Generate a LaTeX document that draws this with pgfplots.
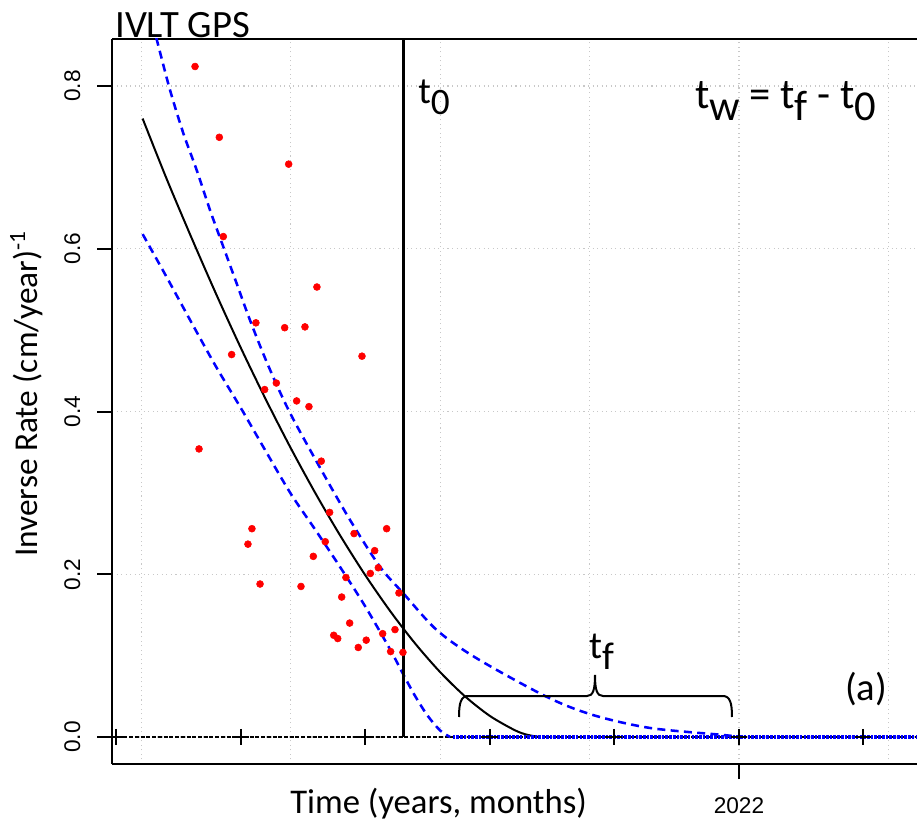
\documentclass[border=0pt]{standalone}
\usepackage{fontspec}
\setmainfont{Carlito}
\newfontfamily\arial{Liberation Sans}
\usepackage{pgfplots}
\pgfplotsset{compat=1.18}
\usetikzlibrary{calc}
\definecolor{rblue}{RGB}{0,0,255}
\definecolor{rred}{RGB}{255,0,0}
\definecolor{gridgray}{RGB}{200,200,200}

\begin{document}
\begin{tikzpicture}
\begin{axis}[
  at={(84bp,-573bp)}, anchor=south west,
  scale only axis, width=603.75bp, height=543.75bp,
  xmin=2016.964, xmax=2023.430, ymin=-0.0332, ymax=0.8578,
  axis x line*=box, axis y line*=left,
  axis line style={line width=1.5bp,-},
  tick align=outside, major tick length=11.25bp,
  every tick/.style={black, line width=1.5bp},
  xtick={2017.2,2018.4,2019.6,2020.8,2022.0,2023.2}, xticklabels={},
  xtick pos=bottom, ytick pos=left,
  x tick style={draw=none},
  extra x ticks={2022}, extra x tick labels={2022},
  extra x tick style={grid=none, x tick style={draw=black}},
  ytick={0,0.2,0.4,0.6,0.8},
  grid=major, grid style={gridgray, line width=0.8bp, dash pattern=on 0.8bp off 2.6bp},
  /pgf/number format/assume math mode=true,
  ticklabel style={font=\arial\fontsize{17bp}{17bp}\selectfont},
  yticklabel style={rotate=90, anchor=base, /pgf/number format/.cd, fixed, fixed zerofill, precision=1},
  yticklabel shift=12.75bp,
  xticklabel style={anchor=base}, xticklabel shift=25.5bp,
  xlabel={Time (years, months)},
  ylabel={Inverse Rate (cm/year)\textsuperscript{-1}},
  every axis x label/.style={at={($(rel axis cs:0.2211,0)+(0,-36.75bp)$)}, anchor=base west, inner sep=0pt, font=\fontsize{26bp}{26bp}\selectfont},
  every axis y label/.style={at={($(rel axis cs:0,0.2855)+(-56.25bp,0)$)}, rotate=90, anchor=base west, inner sep=0pt, font=\fontsize{25bp}{25bp}\selectfont},
]
% zero line
\addplot[black, line width=1bp, dash pattern=on 3bp off 1.3bp] coordinates {(2016.964,0) (2023.430,0)};

% confidence band (upper)
\addplot[rblue, line width=1.9bp, dash pattern=on 6bp off 4bp, smooth, tension=0.5] coordinates {
 (2017.293,0.875) (2017.328,0.8544) (2017.430,0.7951) (2017.537,0.7419) (2017.644,0.6968)
 (2017.751,0.6476) (2017.858,0.6025) (2017.965,0.5575) (2018.072,0.5124) (2018.217,0.4571)
 (2018.394,0.3982) (2018.659,0.3244) (2018.876,0.2667) (2019.116,0.2093) (2019.304,0.1766)
 (2019.572,0.1315) (2019.893,0.0967) (2020.458,0.0492) (2020.827,0.0270) (2021.285,0.0111)
 (2021.871,0.0025) (2022.008,0)
};
% confidence band (lower)
\addplot[rblue, line width=1.9bp, dash pattern=on 6bp off 4bp, smooth, tension=0.5] coordinates {
 (2017.21,0.618) (2017.40,0.566) (2017.60,0.510) (2017.80,0.455) (2018.00,0.404)
 (2018.20,0.351) (2018.40,0.299) (2018.60,0.254) (2018.80,0.208) (2019.00,0.160)
 (2019.20,0.107) (2019.30,0.078) (2019.40,0.050) (2019.50,0.026) (2019.60,0.008)
 (2019.68,0)
};
% fitted inverse-rate curve
\addplot[black, line width=1.5bp, smooth, tension=0.5] coordinates {
 (2017.21,0.760) (2017.40,0.687) (2017.60,0.6145) (2017.80,0.5445) (2018.00,0.4778)
 (2018.20,0.4147) (2018.40,0.3550) (2018.60,0.2990) (2018.80,0.2468) (2019.00,0.1985)
 (2019.20,0.1544) (2019.40,0.1147) (2019.60,0.0797) (2019.80,0.0499) (2020.00,0.0258)
 (2020.20,0.0083) (2020.30,0.0027) (2020.40,0)
};
% observations
\addplot[only marks, mark=*, mark size=2.6bp, mark options={draw=rred, fill=rred}] coordinates {
 (2017.631,0.824) (2017.826,0.737) (2018.383,0.704) (2017.858,0.615) (2018.610,0.553)
 (2018.120,0.509) (2018.351,0.503) (2018.514,0.504) (2017.925,0.470) (2018.972,0.468)
 (2018.190,0.427) (2018.284,0.435) (2018.447,0.413) (2018.546,0.406) (2017.663,0.354)
 (2018.645,0.339) (2018.712,0.276) (2018.088,0.256) (2018.908,0.250) (2019.170,0.256)
 (2018.056,0.237) (2018.677,0.240) (2018.581,0.222) (2019.074,0.229) (2019.103,0.208)
 (2019.039,0.201) (2018.843,0.196) (2018.153,0.188) (2018.482,0.185) (2018.809,0.172)
 (2019.269,0.177) (2018.873,0.140) (2019.237,0.132) (2019.138,0.127) (2018.745,0.125)
 (2018.777,0.121) (2019.006,0.119) (2018.942,0.110) (2019.202,0.105) (2019.301,0.104)
};
% t0
\addplot[black, line width=1.8bp] coordinates {(2019.304,0) (2019.304,0.8578)};
% band at zero
\addplot[rblue, line width=2.4bp, dash pattern=on 2bp off 0.8bp] coordinates {(2019.70,0) (2023.430,0)};
% year ticks on the zero line
\addplot[only marks, mark=+, mark size=6bp, mark options={black, line width=1.5bp}] coordinates {
 (2017,0) (2018,0) (2019,0) (2020,0) (2021,0) (2022,0) (2023,0)
};
\end{axis}

\begin{scope}[x=0.75bp, y=-0.75bp, every node/.style={inner sep=0pt}]
  \node[anchor=base west, font=\fontsize{29bp}{29bp}\selectfont] at (115,37) {IVLT GPS};
  \node[anchor=base west, font=\fontsize{28bp}{28bp}\selectfont] at (418,103) {t\raisebox{-0.3em}{0}};
  \node[anchor=base west, font=\fontsize{32bp}{32bp}\selectfont] at (695,108)
    {t\raisebox{-0.3em}{w} = t\raisebox{-0.3em}{f} - t\raisebox{-0.3em}{0}};
  \node[anchor=base west, font=\fontsize{29bp}{29bp}\selectfont] at (589,658) {t\raisebox{-0.3em}{f}};
  \node[anchor=base west, font=\fontsize{29bp}{29bp}\selectfont] at (845,700) {(a)};
  \draw[line width=1.5bp] (459,717) .. controls (459,703) and (461,696) .. (468,696)
    -- (587,696) .. controls (593,696) and (595,690) .. (595,675)
    .. controls (595,690) and (597,696) .. (603,696)
    -- (723,696) .. controls (730,696) and (732,703) .. (732,717);
\end{scope}
\pgfresetboundingbox
\path[use as bounding box] (0,0) rectangle (687.75bp,-615bp);
\end{tikzpicture}
\end{document}
